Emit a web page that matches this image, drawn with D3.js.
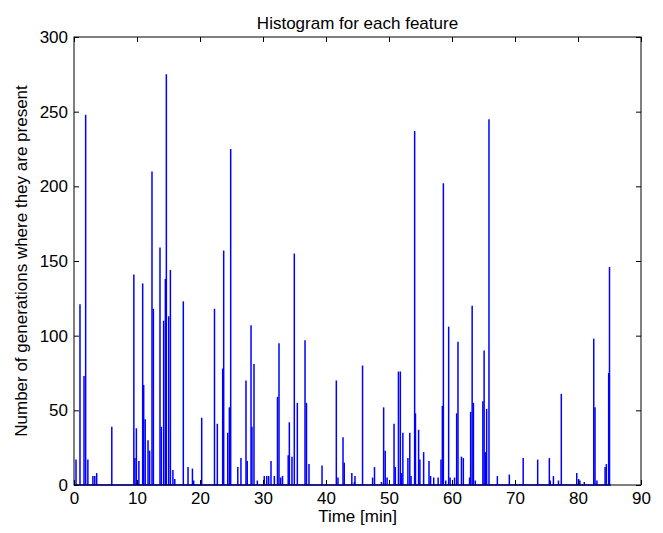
<!DOCTYPE html>
<html>
<head>
<meta charset="utf-8">
<script src="https://cdn.jsdelivr.net/npm/d3@7"></script>
<style>
  body { margin: 0; background: #fff; }
  svg text { font-family: "Liberation Sans", Arial, sans-serif; }
</style>
</head>
<body>
<div id="chart"></div>
<script>
// spike positions (minutes) and heights
var times = [
  0.32, 0.95, 1.59, 1.85, 2.2, 3.0, 3.3, 3.6, 6.0,
  9.5, 9.67, 9.9, 10.3, 10.9, 11.06, 11.3, 11.75, 12.0, 12.38, 12.6, 13.65, 13.86, 14.23, 14.5, 14.66, 15.03, 15.3, 15.7, 16.0, 17.35, 18.1, 18.8, 19.0, 20.27,
  22.3, 22.75, 23.6, 23.76, 24.4, 24.66, 24.87, 26.0, 26.5, 27.3, 27.5, 28.1, 28.25, 28.57, 29.1,
  30.2, 30.6, 30.9, 31.27, 31.8, 32.3, 32.54, 32.8, 33.1, 34.0, 34.18, 34.6, 34.97, 35.45, 36.67, 36.9, 37.3, 39.37,
  41.64, 41.9, 42.7, 42.9, 44.1, 44.5, 44.6, 45.8, 47.4, 47.7, 48.8, 49.15, 49.4, 49.7,
  50.8, 51.0, 51.5, 51.8, 52.0, 52.2, 53.0, 53.3, 53.5, 54.07, 54.2, 54.7, 54.9, 55.5, 56.35, 56.6, 57.1, 57.8, 58.25, 58.47, 58.63, 59.0, 59.47, 59.7,
  60.4, 60.74, 60.95, 61.5, 61.8, 62.8, 62.96, 63.2, 63.4, 63.7, 64.9, 65.1, 65.3, 65.5, 65.87, 67.2, 69.1,
  71.3, 73.6, 75.45, 75.6, 76.1, 76.9, 77.35, 79.8, 80.1, 80.3, 81.0, 82.5, 82.7, 83.0, 84.3, 84.5, 84.87, 85.0
];
var counts = [
  17, 121, 73, 248, 17, 6, 6, 8, 39,
  141, 18, 38, 16, 135, 67, 44, 30, 23, 210, 118, 159, 39, 110, 138, 275, 113, 144, 10, 4, 123, 12, 11, 3, 45,
  118, 41, 78, 157, 35, 52, 225, 12, 18, 70, 16, 107, 39, 81, 3,
  6, 6, 6, 16, 6, 59, 95, 5, 6, 20, 42, 19, 155, 55, 97, 55, 14, 13,
  70, 5, 32, 15, 8, 2, 6, 80, 5, 12, 2, 52, 23, 5,
  41, 12, 76, 76, 8, 35, 18, 35, 6, 237, 48, 37, 17, 22, 16, 6, 5, 5, 17, 53, 202, 3, 106, 5,
  5, 48, 96, 19, 18, 5, 49, 120, 55, 3, 56, 90, 22, 51, 245, 6, 7,
  18, 17, 18, 3, 6, 3, 61, 8, 4, 3, 2, 98, 52, 3, 12, 14, 75, 146
];
var xTicks = [0, 10, 20, 30, 40, 50, 60, 70, 80, 90];
var yTicks = [0, 50, 100, 150, 200, 250, 300];
var lastTime = 85.2; // where the baseline of the histogram stops

var W = 663, H = 533;
var margin = {top: 37, right: 22, bottom: 48, left: 74};
var w = W - margin.left - margin.right;
var h = H - margin.top - margin.bottom;

var svg = d3.select("#chart").append("svg")
  .attr("width", W)
  .attr("height", H);

var g = svg.append("g")
  .attr("transform", "translate(" + margin.left + "," + margin.top + ")");

var x = d3.scaleLinear().domain([0, 90]).range([0, w]);
var y = d3.scaleLinear().domain([0, 300]).range([h, 0]);

var data = times.map(function(t, i){ return {t: t, v: counts[i]}; });

// baseline
g.append("line")
  .attr("x1", x(0)).attr("x2", x(lastTime))
  .attr("y1", y(0)).attr("y2", y(0))
  .attr("stroke", "#0000ff")
  .attr("stroke-width", 1.5);

// spikes
g.selectAll(".spike").data(data).enter().append("line")
  .attr("class", "spike")
  .attr("x1", function(d){ return x(d.t); })
  .attr("x2", function(d){ return x(d.t); })
  .attr("y1", y(0))
  .attr("y2", function(d){ return y(d.v); })
  .attr("stroke", "#0000ff")
  .attr("stroke-width", 1.5);

// matlab style box with inward ticks
function styleAxis(sel) {
  sel.select(".domain").remove();
  sel.selectAll(".tick line").attr("stroke", "#000");
  sel.selectAll(".tick text")
    .attr("fill", "#000")
    .style("font-size", "17px");
}

g.append("g")
  .attr("transform", "translate(0," + h + ")")
  .call(d3.axisBottom(x).tickValues(xTicks).tickSizeInner(-5).tickSizeOuter(0).tickPadding(7))
  .call(styleAxis);

g.append("g")
  .call(d3.axisTop(x).tickValues(xTicks).tickSizeInner(-5).tickSizeOuter(0).tickFormat(""))
  .call(styleAxis);

g.append("g")
  .call(d3.axisLeft(y).tickValues(yTicks).tickSizeInner(-5).tickSizeOuter(0).tickPadding(6))
  .call(styleAxis);

g.append("g")
  .attr("transform", "translate(" + w + ",0)")
  .call(d3.axisRight(y).tickValues(yTicks).tickSizeInner(-5).tickSizeOuter(0).tickFormat(""))
  .call(styleAxis);

g.append("rect")
  .attr("width", w).attr("height", h)
  .attr("fill", "none")
  .attr("stroke", "#000")
  .attr("stroke-width", 1);

// labels
svg.append("text")
  .attr("x", margin.left + w / 2)
  .attr("y", 29)
  .attr("text-anchor", "middle")
  .style("font-size", "17px")
  .text("Histogram for each feature");

svg.append("text")
  .attr("x", margin.left + w / 2)
  .attr("y", 522)
  .attr("text-anchor", "middle")
  .style("font-size", "17px")
  .text("Time [min]");

svg.append("text")
  .attr("transform", "translate(27," + (margin.top + h / 2) + ") rotate(-90)")
  .attr("text-anchor", "middle")
  .style("font-size", "17px")
  .text("Number of generations where they are present");
</script>
</body>
</html>
